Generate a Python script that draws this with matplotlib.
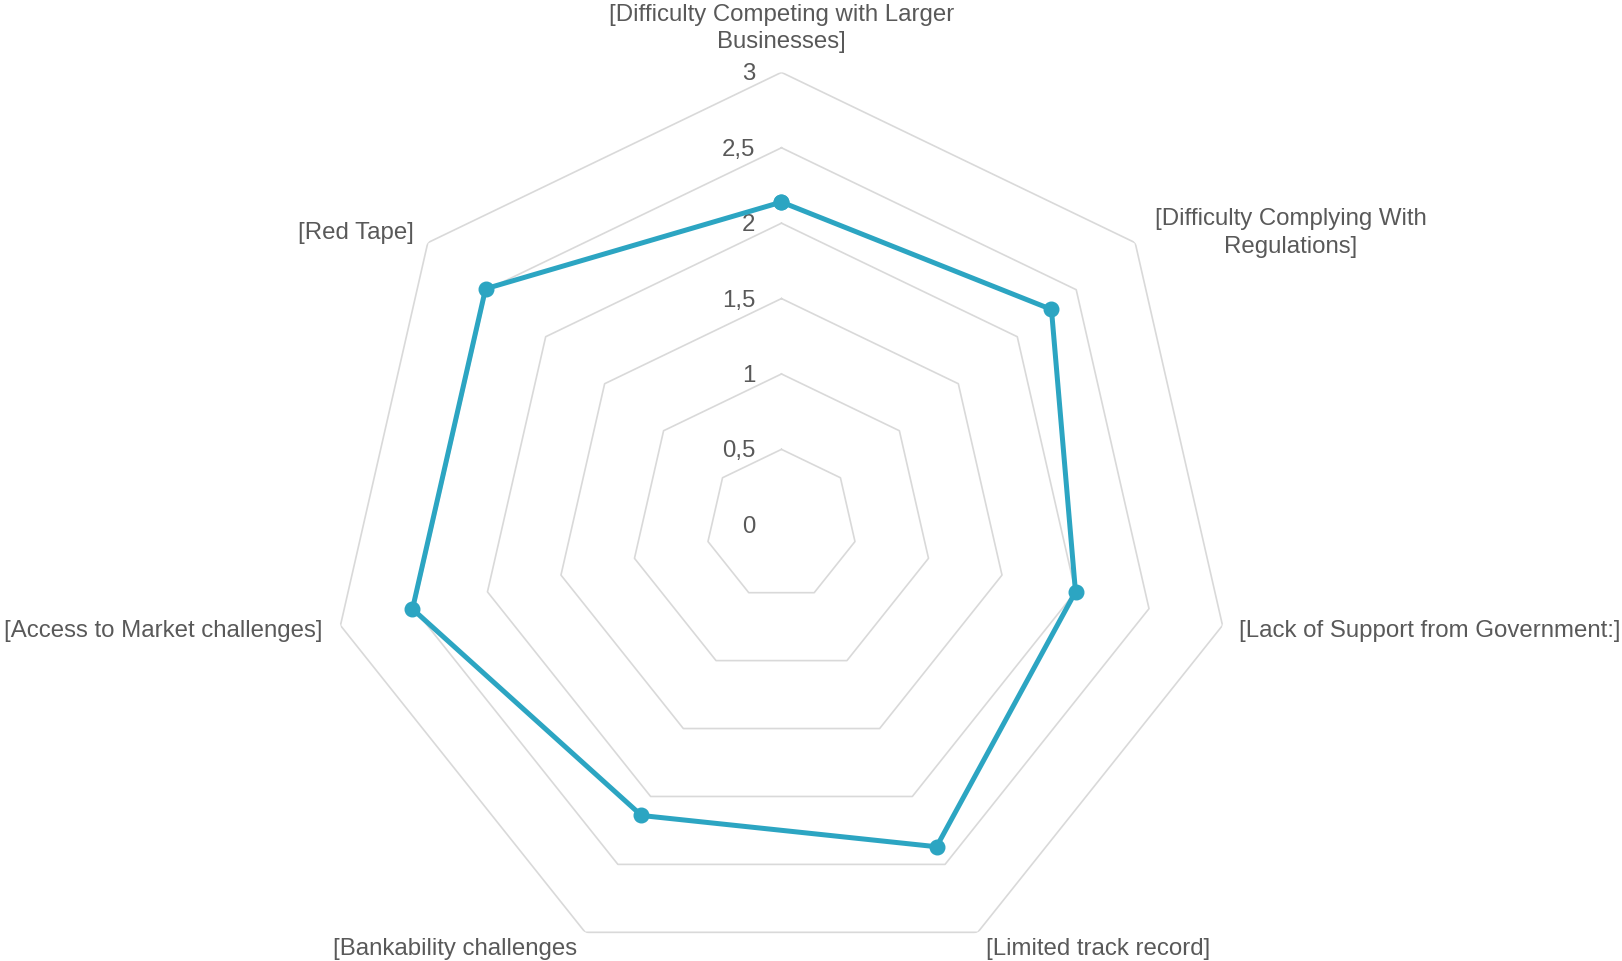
import matplotlib.pyplot as plt
import numpy as np

categories = ['[Difficulty Competing with Larger\nBusinesses]',
              '[Difficulty Complying With\nRegulations]',
              '[Lack of Support from Government:]',
              '[Limited track record]',
              '[Bankability challenges',
              '[Access to Market challenges]',
              '[Red Tape]']
values = [2.14, 2.29, 2.0, 2.37, 2.14, 2.51, 2.51]
ring_values = [0.5, 1.0, 1.5, 2.0, 2.5, 3.0]
tick_values = [0, 0.5, 1, 1.5, 2, 2.5, 3]
tick_labels = ['0', '0,5', '1', '1,5', '2', '2,5', '3']

line_color = '#2CA5C2'
text_color = '#595959'
grid_color = '#D9D9D9'

plt.rcParams['font.family'] = ['Liberation Sans', 'DejaVu Sans']

fig = plt.figure(figsize=(16.22, 9.61), dpi=100)
ax = fig.add_axes([0.2029, -0.0168, 0.5578, 0.9415], projection='polar')
ax.set_theta_zero_location('N')
ax.set_theta_direction(-1)
ax.set_ylim(0, 3)
ax.grid(False)
ax.spines['polar'].set_visible(False)
ax.set_xticks([])
ax.set_yticks([])
ax.patch.set_alpha(0)

n = len(categories)
angles = np.arange(n) * 2 * np.pi / n
closed = np.append(angles, angles[0])

# heptagon grid
for r in ring_values:
    ax.plot(closed, [r] * (n + 1), color=grid_color, lw=1.2, zorder=1)

# radial tick labels
for v, lab in zip(tick_values, tick_labels):
    ax.annotate(lab, xy=(0, v), xytext=(-19, -1.5), textcoords='offset points',
                ha='right', va='center', fontsize=17.3, color=text_color)

# series
ax.plot(closed, np.append(values, values[0]), color=line_color, lw=3.6,
        marker='o', markersize=10.5, zorder=3, clip_on=False)

# category labels (offsets in points)
label_fmt = [
    ('center', 'bottom', (0, 14)),
    ('left', 'center', (14, 7)),
    ('left', 'center', (12, -4)),
    ('left', 'center', (6, -12)),
    ('right', 'center', (-6, -12)),
    ('right', 'center', (-13, -4)),
    ('right', 'center', (-10, 7)),
]
for a, lab, (ha, va, off) in zip(angles, categories, label_fmt):
    ax.annotate(lab, xy=(a, 3), xytext=off, textcoords='offset points',
                ha=ha, va=va, multialignment='center', fontsize=17.3,
                linespacing=1.3, color=text_color, annotation_clip=False)

fig.savefig('out.png', dpi=100)
